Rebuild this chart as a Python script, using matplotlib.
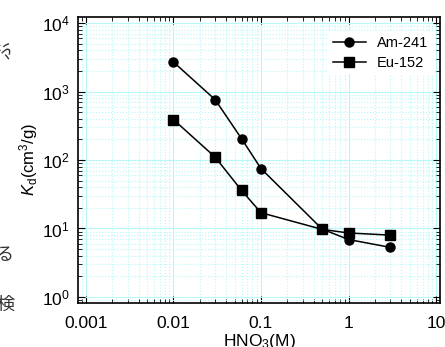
import numpy as np
import matplotlib
matplotlib.use("Agg")
import matplotlib.pyplot as plt
from matplotlib.ticker import LogLocator, FuncFormatter, NullFormatter

plt.rcParams['font.family'] = ['Liberation Sans', 'Noto Sans CJK JP', 'DejaVu Sans']
plt.rcParams['mathtext.fontset'] = 'custom'
plt.rcParams['mathtext.rm'] = 'Liberation Sans'
plt.rcParams['mathtext.it'] = 'Liberation Sans:italic'

# HNO3 concentration (M)
hno3 = [0.01, 0.03, 0.06, 0.1, 0.5, 1, 3]
# Kd values (cm3/g)
kd_am = [2700, 760, 205, 75, 9.8, 6.9, 5.3]
kd_eu = [390, 110, 36, 17, 9.7, 8.6, 8.0]

fig = plt.figure(figsize=(4.45, 3.47), dpi=100)
ax = fig.add_axes([0.175, 0.128, 0.814, 0.823])

ax.plot(hno3, kd_am, '-o', color='black', lw=1.1, ms=6.5, label='Am-241')
ax.plot(hno3, kd_eu, '-s', color='black', lw=1.1, ms=7, label='Eu-152')

ax.set_xscale('log')
ax.set_yscale('log')
ax.set_xlim(10**-3.091, 10**1.046)
ax.set_ylim(10**-0.082, 10**4.088)

ax.xaxis.set_major_locator(LogLocator(base=10, numticks=10))
ax.xaxis.set_minor_locator(LogLocator(base=10, subs=np.arange(2, 10), numticks=20))
ax.yaxis.set_minor_locator(LogLocator(base=10, subs=np.arange(2, 10), numticks=20))
ax.xaxis.set_major_formatter(FuncFormatter(lambda v, p: '%g' % v))
ax.xaxis.set_minor_formatter(NullFormatter())
ax.yaxis.set_major_formatter(FuncFormatter(lambda v, p: r'$10^{%d}$' % round(np.log10(v))))

ax.grid(True, which='major', color='#b8f8f8', lw=0.8, ls='-')
ax.grid(True, which='minor', color='#b8f8f8', lw=0.8, ls=':')
ax.set_axisbelow(True)

ax.tick_params(which='both', direction='in', top=True, right=True, labelsize=12.5)
ax.tick_params(which='major', length=5)
ax.tick_params(which='minor', length=3)
ax.tick_params(axis='x', which='major', pad=10)
ax.tick_params(axis='y', which='major', pad=6)
for s in ax.spines.values():
    s.set_linewidth(1.2)

ax.set_xlabel('HNO$_3$(M)', fontsize=12.5)
ax.xaxis.set_label_coords(0.5, -0.102)
ax.set_ylabel(r'$K_{\rm d}$(cm$^3$/g)', fontsize=12, labelpad=1)

leg = ax.legend(loc='upper right', bbox_to_anchor=(1.0, 0.975), fontsize=10.5,
                frameon=True, edgecolor='none', facecolor='white', framealpha=1,
                handlelength=2.2, borderpad=0.3, labelspacing=0.4, fancybox=False)

# cropped japanese text fragments on the left edge
fig.text(0.012, 0.855, 'ぶ', fontsize=13, rotation=90, ha='center', va='center',
         family=['Noto Sans CJK JP'], color='#333333')
fig.text(0.012, 0.265, 'る', fontsize=13, ha='center', va='center',
         family=['Noto Sans CJK JP'], color='#333333')
fig.text(0.012, 0.12, '検', fontsize=13, ha='center', va='center',
         family=['Noto Sans CJK JP'], color='#333333')

fig.savefig('out.png', dpi=100)
